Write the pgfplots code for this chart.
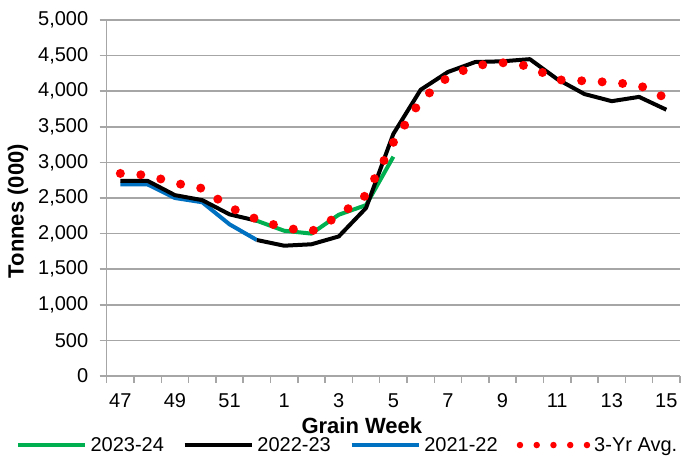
\documentclass[border=0pt]{standalone}
\usepackage{pgfplots}
\pgfplotsset{compat=1.18}
\usepackage{fontspec}
\setmainfont{Liberation Sans}
\definecolor{xgreen}{HTML}{00B050}
\definecolor{xblue}{HTML}{0070C0}
\definecolor{xred}{HTML}{FF0000}
\definecolor{xgrid}{HTML}{A6A6A6}
\begin{document}
\begin{tikzpicture}
\path[use as bounding box] (0,0) rectangle (683bp,459bp);
\begin{axis}[
  at={(106.7bp,83bp)}, anchor=south west,
  width=573.3bp, height=356bp, scale only axis,
  xmin=-0.5, xmax=20.5, ymin=0, ymax=5000,
  axis x line*=bottom, axis y line*=left,
  axis line style={xgrid, line width=1.5bp},
  xtick={-0.5,0.5,...,20.5},
  xticklabels={47,,49,,51,,1,,3,,5,,7,,9,,11,,13,,15,},
  xticklabel style={xshift=13.65bp, yshift=-7.5bp},
  ytick={0,500,...,5000},
  tick style={xgrid, line width=1.5bp},
  tick align=outside,
  major tick length=7bp,
  ymajorgrids, major grid style={xgrid, line width=1.5bp},
  font=\fontsize{20bp}{24bp}\selectfont,
  ticklabel style={font=\fontsize{20bp}{24bp}\selectfont},
  /pgf/number format/assume math mode=true,
  yticklabel style={xshift=-8bp, /pgf/number format/.cd, fixed, precision=0, 1000 sep={,}},
  xlabel={\bfseries Grain Week},
  ylabel={\bfseries Tonnes (000)},
  xlabel style={at={(axis description cs:0.445,-0.140)}, anchor=center, font=\fontsize{22bp}{26bp}\selectfont},
  ylabel style={at={(axis description cs:-0.155,0.463)}, anchor=center, font=\fontsize{22bp}{26bp}\selectfont},
  legend columns=4,
  legend style={draw=none, fill=none, inner sep=0pt, at={(axis description cs:0.422,-0.194)}, anchor=center,
    font=\fontsize{20bp}{24bp}\selectfont,
    /tikz/every even column/.append style={column sep=15bp},
    nodes={inner xsep=4bp, inner ysep=0pt}},
  legend image code/.code={\draw[#1] (0bp,0bp) -- (67bp,0bp);},
]
\addlegendimage{xgreen, line width=3.5bp}
\addlegendentry{2023-24}
\addlegendimage{black, line width=3.5bp}
\addlegendentry{2022-23}
\addlegendimage{xblue, line width=3.5bp}
\addlegendentry{2021-22}
\addlegendimage{xred, line width=6.5bp, line cap=round, dash pattern=on 0pt off 16.75bp}
\addlegendentry{3-Yr Avg.}

% 2021-22 (blue), weeks 47-52
\addplot[forget plot, xblue, line width=4bp, line join=round] coordinates {
(0,2690) (1,2690) (2,2500) (3,2440) (4,2130) (5,1910)};
% 2023-24 (green), weeks 52-5
\addplot[forget plot, xgreen, line width=4bp, line join=round] coordinates {
(5,2180) (6,2040) (7,2000) (8,2265) (9,2400) (10,3080)};
% 2022-23 (black), weeks 47-52
\addplot[forget plot, black, line width=4bp, line join=round] coordinates {
(0,2740) (1,2740) (2,2540) (3,2470) (4,2270) (5,2180)};
% 2022-23 (black), weeks 52-15
\addplot[forget plot, black, line width=4bp, line join=round] coordinates {
(5,1910) (6,1830) (7,1850) (8,1960) (9,2360) (10,3400) (11,4020) (12,4270)
(13,4410) (14,4420) (15,4450) (16,4170) (17,3960) (18,3860) (19,3920) (20,3740)};
% 3-Yr Avg
\addplot[forget plot, xred, line width=9bp, line cap=round, line join=round, dash pattern=on 0pt off 20.5bp] coordinates {
(0,2845) (1,2820) (2,2710) (3,2635) (4,2370) (5,2200) (6,2080) (7,2030) (8,2250)
(9,2540) (10,3280) (11,3870) (12,4200) (13,4360) (14,4400) (15,4350) (16,4160)
(17,4145) (18,4124) (19,4085) (20,3900)};
\end{axis}
\end{tikzpicture}
\end{document}
